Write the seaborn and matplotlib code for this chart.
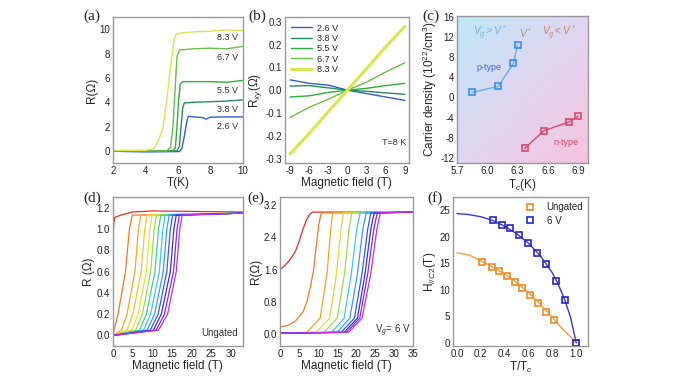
import numpy as np
import matplotlib
matplotlib.use('Agg')
import matplotlib.pyplot as plt
import seaborn as sns
from matplotlib.colors import LinearSegmentedColormap

sns.set_style('white')
plt.rcParams['font.family'] = ['Liberation Sans', 'DejaVu Sans']
plt.rcParams['mathtext.fontset'] = 'custom'
plt.rcParams['mathtext.rm'] = 'Liberation Sans'
plt.rcParams['mathtext.it'] = 'Liberation Sans:italic'
plt.rcParams['axes.unicode_minus'] = False

# ---- (a) R vs T for gate voltages ----
a_labels = ['2.6 V', '3.8 V', '5.5 V', '6.7 V', '8.3 V']
a_T = [
    [2, 4, 6.1, 6.25, 6.4, 6.55, 6.65, 7.0, 7.5, 7.75, 8.0, 9, 10],
    [2, 5.95, 6.1, 6.2, 6.3, 6.4, 7, 8, 9, 10],
    [2, 5.7, 5.85, 5.95, 6.05, 6.15, 6.3, 7, 8, 9, 10],
    [2, 5.3, 5.55, 5.7, 5.85, 5.95, 6.1, 7, 8, 9, 10],
    [2, 4.0, 4.5, 4.8, 5.1, 5.35, 5.6, 5.8, 5.9, 6.2, 7, 8, 9, 10],
]
a_R = [
    [-0.02, -0.08, -0.05, 0.2, 1.2, 2.4, 2.85, 2.8, 2.75, 2.62, 2.78, 2.8, 2.8],
    [0, 0, 0.4, 2.0, 3.5, 3.95, 4.0, 4.05, 4.1, 4.2],
    [0, 0, 0.3, 2.0, 4.2, 5.5, 5.7, 5.7, 5.7, 5.65, 5.8],
    [0, 0, 0.3, 2.0, 5.5, 7.8, 8.3, 8.4, 8.45, 8.4, 8.6],
    [0.05, 0.05, 0.2, 0.8, 2.0, 4.5, 7.5, 9.3, 9.6, 9.7, 9.8, 9.85, 9.95, 9.9],
]
a_label_y = [2.0, 3.4, 5.0, 7.7, 9.3]

# ---- (b) Hall resistance at T=8 K ----
b_B = [-9, -6, -3, 0, 3, 6, 9]
b_Rxy = [
    [0.045, 0.03, 0.022, 0.0, -0.015, -0.03, -0.045],
    [0.018, 0.02, 0.01, 0.0, -0.005, -0.012, -0.018],
    [-0.03, -0.025, -0.01, 0.0, 0.008, 0.02, 0.03],
    [-0.12, -0.075, -0.04, 0.0, 0.035, 0.08, 0.12],
    [-0.28, -0.19, -0.095, 0.0, 0.095, 0.19, 0.28],
]

# ---- (c) carrier density vs Tc ----
p_Tc = [5.846, 6.11, 6.26, 6.30]
p_n = [1.0, 2.2, 6.8, 10.4]
n_Tc = [6.37, 6.56, 6.81, 6.90]
n_n = [-10.1, -6.6, -4.85, -3.7]

# ---- (d) ungated R vs H, (e) Vg = 6 V ----
d_levels = [0.05, 0.2, 0.6, 1.0, 1.13]
d_fields = [
    [0.3, 1.3, 3.2, 4.2, 4.9],
    [2.2, 3.6, 5.6, 6.5, 7.1],
    [3.6, 5.1, 7.2, 8.1, 8.7],
    [4.8, 6.4, 8.5, 9.4, 10.0],
    [5.8, 7.5, 9.6, 10.5, 11.1],
    [6.8, 8.5, 10.7, 11.6, 12.2],
    [7.8, 9.6, 11.8, 12.7, 13.3],
    [8.7, 10.6, 12.8, 13.7, 14.3],
    [9.5, 11.5, 13.7, 14.6, 15.2],
    [10.3, 12.3, 14.6, 15.5, 16.1],
    [11.0, 13.1, 15.4, 16.3, 16.9],
    [11.6, 13.9, 16.1, 17.0, 17.6],
]
d_red_H = [0, 0.05, 0.2, 0.5, 2, 5, 10, 33]
d_red_R = [0.65, 0.85, 1.05, 1.11, 1.13, 1.16, 1.17, 1.16]
d_normal = 1.15

e_levels = [0.05, 0.4, 1.5, 2.6, 3.0]
e_fields = [
    [7.0, 10.5, 12.3, 13.3, 13.8],
    [9.5, 13.0, 14.8, 16.0, 16.6],
    [11.5, 15.0, 16.9, 18.1, 18.8],
    [13.5, 16.8, 18.7, 20.1, 21.0],
    [15.0, 18.3, 20.3, 21.7, 22.6],
    [16.0, 19.5, 21.5, 23.0, 23.8],
    [16.8, 20.3, 22.3, 23.8, 24.7],
    [17.4, 20.9, 23.0, 24.6, 25.5],
    [18.0, 21.5, 23.8, 25.4, 26.3],
]
e_red_H = [0, 1, 2, 3, 4, 5, 6, 7, 7.8, 8.5, 35]
e_red_R = [1.6, 1.68, 1.78, 1.9, 2.05, 2.3, 2.6, 2.85, 2.97, 3.02, 3.02]
e_orange_H = [0, 2, 4, 6, 7, 8, 8.8, 9.5, 10.2, 10.8, 35]
e_orange_R = [0.18, 0.22, 0.33, 0.55, 0.8, 1.2, 1.6, 2.2, 2.75, 3.0, 3.02]
e_normal = 3.02

# ---- (f) upper critical field ----
ung_t = [0.211, 0.29, 0.355, 0.42, 0.487, 0.549, 0.614, 0.679, 0.746, 0.811]
ung_H = [15.2, 14.3, 13.6, 12.6, 11.5, 10.3, 9.0, 7.5, 5.8, 4.4]
v6_t = [0.304, 0.38, 0.445, 0.521, 0.592, 0.67, 0.749, 0.828, 0.907, 1.0]
v6_H = [23.2, 22.3, 21.6, 20.3, 18.8, 17.0, 14.8, 11.7, 8.0, 0.0]
fit_t = [0, 0.1, 0.2, 0.3, 0.4, 0.5, 0.6, 0.7, 0.8, 0.85, 0.9, 0.95, 1.0]
fit_ung = [17.0, 16.6, 15.5, 14.3, 13.0, 11.4, 9.5, 7.3, 4.8, 3.5, 2.3, 1.2, 0.1]
fit_v6 = [24.4, 24.2, 23.8, 23.1, 22.0, 20.6, 18.8, 16.4, 13.2, 11.0, 8.3, 5.0, 0.0]

a_colors = ['#3560c8', '#2a8a5e', '#2fae3a', '#6cc04a', '#d8e84c']
d_colors = ['#f07a28', '#f5a623', '#f5c82a', '#e2e436', '#9ede48', '#40d68a',
            '#3ccbe0', '#3a9af0', '#2f5fe8', '#3a30d8', '#7a2fe0', '#c42fe0']
e_colors = ['#f5a623', '#f2d52a', '#9ede48', '#3ccbe0', '#3a9af0', '#2f5fe8',
            '#3a30d8', '#7a2fe0', '#c42fe0']
red = '#e0302a'

fig = plt.figure(figsize=(6.8, 3.82), dpi=100)
ax_a = fig.add_axes([0.166, 0.573, 0.191, 0.382])
ax_b = fig.add_axes([0.419, 0.573, 0.182, 0.382])
ax_c = fig.add_axes([0.672, 0.573, 0.193, 0.386])
ax_d = fig.add_axes([0.166, 0.094, 0.191, 0.390])
ax_e = fig.add_axes([0.412, 0.094, 0.196, 0.390])
ax_f = fig.add_axes([0.666, 0.094, 0.199, 0.390])

for ax in [ax_a, ax_b, ax_c, ax_d, ax_e, ax_f]:
    for s in ax.spines.values():
        s.set_color('#999999')
        s.set_linewidth(1.0)
    ax.tick_params(direction='in', length=2, width=0.6, color='#999999',
                   labelsize=7, pad=2, labelcolor='#222222')

lab = dict(fontsize=8.5, labelpad=1)

# (a)
for i in range(5):
    sns.lineplot(x=a_T[i], y=a_R[i], ax=ax_a, color=a_colors[i], lw=1.0,
                 sort=False, estimator=None)
    ax_a.text(8.4, a_label_y[i], a_labels[i], fontsize=6.5, color='#333333',
              va='center')
ax_a.set_xlim(2, 10)
ax_a.set_ylim(-1, 11)
ax_a.set_xticks([2, 4, 6, 8, 10])
ax_a.set_yticks([0, 2, 4, 6, 8, 10])
ax_a.set_xlabel('T(K)', **lab)
ax_a.set_ylabel('R(Ω)', **lab)

# (b)
for i in range(5):
    sns.lineplot(x=b_B, y=b_Rxy[i], ax=ax_b, color=a_colors[i],
                 lw=2.2 if i == 4 else 1.0, sort=False, estimator=None,
                 label=a_labels[i])
ax_b.legend(loc='upper left', frameon=False, fontsize=6.5, handlelength=2.3,
            labelspacing=0.15, borderaxespad=0.3, handletextpad=0.5)
ax_b.text(5.4, -0.24, 'T=8 K', fontsize=6.5, color='#333333')
ax_b.set_xlim(-9.8, 9.6)
ax_b.set_ylim(-0.32, 0.32)
ax_b.set_xticks([-9, -6, -3, 0, 3, 6, 9])
ax_b.set_yticks([-0.3, -0.2, -0.1, 0.0, 0.1, 0.2, 0.3])
ax_b.set_xlabel('Magnetic field (T)', **lab)
ax_b.set_ylabel('R$_{xy}$(Ω)', **lab)

# (c)
grad = LinearSegmentedColormap.from_list('bp', ['#bfe7f8', '#e0d6f0', '#f6c3de'])
gx, gy = np.meshgrid(np.linspace(0, 1, 200), np.linspace(0, 1, 200))
ax_c.imshow((gx + (1 - gy)) / 2, extent=[5.7, 7.0, -13, 16.2], origin='lower',
            aspect='auto', cmap=grad, zorder=0)
ax_c.plot(p_Tc, p_n, color='#6aaee8', lw=1.0, marker='s', ms=5, mfc='none',
          mec='#3a8ee6', mew=1.2)
ax_c.plot(n_Tc, n_n, color='#d84a6c', lw=1.0, marker='s', ms=5, mfc='none',
          mec='#d84a6c', mew=1.2)
ax_c.text(5.86, 12.8, '$V_g > V^*$', color='#7ab8e0', fontsize=7.5, va='center')
ax_c.text(6.31, 12.8, '$V^*$', color='#999999', fontsize=7.5, va='center')
ax_c.text(6.54, 12.8, '$V_g < V^*$', color='#c9876a', fontsize=7.5, va='center')
ax_c.text(5.89, 6.0, 'p-type', color='#2f6fd8', fontsize=6.5, va='center')
ax_c.text(6.66, -9.0, 'n-type', color='#d24a6a', fontsize=6.5, va='center')
ax_c.set_xlim(5.7, 7.0)
ax_c.set_ylim(-13, 16.2)
ax_c.set_xticks([5.7, 6.0, 6.3, 6.6, 6.9])
ax_c.set_yticks([-12, -8, -4, 0, 4, 8, 12, 16])
ax_c.set_xlabel('T$_c$(K)', **lab)
ax_c.set_ylabel('Carrier density (10$^{22}$/cm$^3$)', fontsize=8.5, labelpad=1)

# (d)
sns.lineplot(x=d_red_H, y=d_red_R, ax=ax_d, color=red, lw=0.9, sort=False,
             estimator=None)
for i, f in enumerate(d_fields):
    sns.lineplot(x=[0] + f + [33], y=[0.0] + d_levels + [d_normal], ax=ax_d,
                 color=d_colors[i], lw=0.9, sort=False, estimator=None)
ax_d.text(22.4, 0.02, 'Ungated', fontsize=7, color='#333333', va='center')
ax_d.set_xlim(0, 33)
ax_d.set_ylim(-0.1, 1.3)
ax_d.set_xticks([0, 5, 10, 15, 20, 25, 30])
ax_d.set_yticks([0.0, 0.2, 0.4, 0.6, 0.8, 1.0, 1.2])
ax_d.set_xlabel('Magnetic field (T)', **lab)
ax_d.set_ylabel('R (Ω)', **lab)

# (e)
sns.lineplot(x=e_red_H, y=e_red_R, ax=ax_e, color=red, lw=0.9, sort=False,
             estimator=None)
sns.lineplot(x=e_orange_H, y=e_orange_R, ax=ax_e, color='#f07a28', lw=0.9,
             sort=False, estimator=None)
for i, f in enumerate(e_fields):
    sns.lineplot(x=[0] + f + [35], y=[0.03] + e_levels + [e_normal], ax=ax_e,
                 color=e_colors[i], lw=0.9, sort=False, estimator=None)
ax_e.text(24.8, 0.1, 'V$_g$= 6 V', fontsize=7, color='#333333', va='center')
ax_e.set_xlim(0, 35)
ax_e.set_ylim(-0.29, 3.39)
ax_e.set_xticks([0, 5, 10, 15, 20, 25, 30, 35])
ax_e.set_yticks([0.0, 0.8, 1.6, 2.4, 3.2])
ax_e.set_xlabel('Magnetic field (T)', **lab)
ax_e.set_ylabel('R(Ω)', **lab)

# (f)
sns.lineplot(x=fit_t, y=fit_ung, ax=ax_f, color='#f0a040', lw=1.0, sort=False,
             estimator=None)
sns.lineplot(x=fit_t, y=fit_v6, ax=ax_f, color='#3a3ad0', lw=1.0, sort=False,
             estimator=None)
ax_f.plot(ung_t + [1.0], ung_H + [0.0], ls='none', marker='s', ms=4.5, mfc='none',
          mec='#f08a24', mew=1.2, label='Ungated')
ax_f.plot(v6_t, v6_H, ls='none', marker='s', ms=4.5, mfc='none', mec='#2626c8',
          mew=1.2, label='6 V')
ax_f.legend(loc='upper right', frameon=False, fontsize=7, handletextpad=1.2,
            borderaxespad=0.1, labelspacing=0.4, handlelength=1.0)
ax_f.set_xlim(-0.034, 1.1)
ax_f.set_ylim(-0.6, 27.5)
ax_f.set_xticks([0.0, 0.2, 0.4, 0.6, 0.8, 1.0])
ax_f.set_yticks([0, 5, 10, 15, 20, 25])
ax_f.set_xlabel('T/T$_c$', **lab)
ax_f.set_ylabel('H$_{//C2}$(T)', **lab)

for s, (x, y) in zip('abcdef', [(0.135, 0.958), (0.379, 0.958), (0.634, 0.958),
                                (0.135, 0.482), (0.376, 0.482), (0.640, 0.482)]):
    fig.text(x, y, '(%s)' % s, family='Liberation Serif', fontsize=11,
             ha='center', va='center')

fig.savefig('out.png', dpi=100)
